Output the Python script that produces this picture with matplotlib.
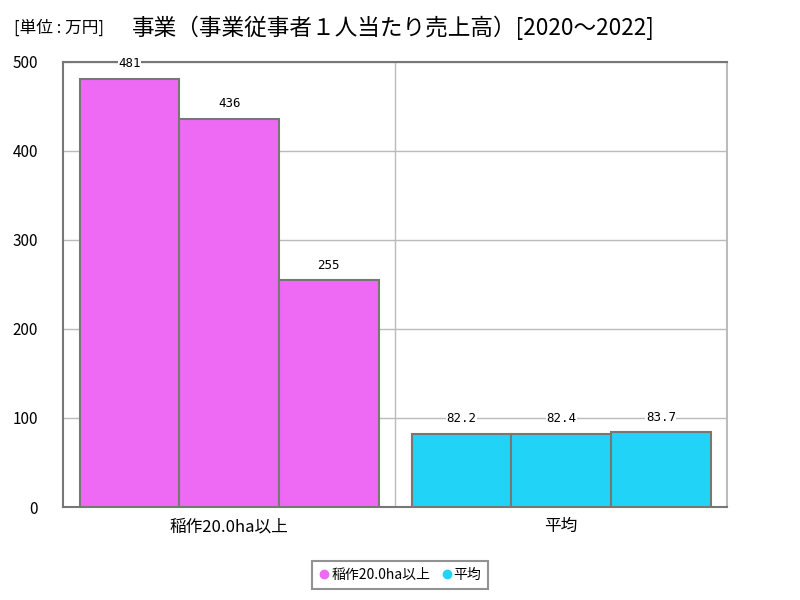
import numpy as np
import matplotlib.pyplot as plt
from matplotlib.lines import Line2D

plt.rcParams['font.family'] = ['Noto Sans CJK JP', 'DejaVu Sans']

categories = ['稲作20.0ha以上', '平均']
years = ['2020', '2021', '2022']
values_rice = [481, 436, 255]
values_avg = [82.2, 82.4, 83.7]
colors = ['#ee6af4', '#22d3f8']

fig = plt.figure(figsize=(8, 6), dpi=100)
ax = fig.add_axes([0.079, 0.155, 0.83, 0.742])

w = 0.3
x = np.arange(len(categories))
for i, (vals, c) in enumerate([(values_rice, colors[0]), (values_avg, colors[1])]):
    for j, v in enumerate(vals):
        xp = x[i] - w + j * w
        ax.bar(xp, v, width=w, color=c, edgecolor='#777777', linewidth=1.5, zorder=3)
        ax.annotate(str(v), (xp, v), xytext=(0, 6), textcoords='offset points',
                    ha='center', va='bottom', fontsize=9, family='DejaVu Sans Mono',
                    zorder=4, clip_on=False,
                    bbox=dict(boxstyle='square,pad=0.05', fc='white', ec='none'))

ax.set_xlim(-0.5, 1.5)
ax.set_ylim(0, 500)
ax.set_yticks([0, 100, 200, 300, 400, 500])
ax.set_xticks(x)
ax.set_xticklabels(categories, fontsize=12)
ax.tick_params(axis='y', labelsize=11, length=0, pad=18)
ax.tick_params(axis='x', length=0, pad=8)
ax.grid(axis='y', color='#bbbbbb', linewidth=1, zorder=0)
ax.axvline(0.5, color='#bbbbbb', linewidth=1, zorder=0)
for s in ax.spines.values():
    s.set_color('#777777')
    s.set_linewidth(1.5)
ax.spines['right'].set_color('#bbbbbb')

fig.text(0.018, 0.953, '[単位 : 万円]', fontsize=12, va='center')
fig.text(0.165, 0.953, '事業（事業従事者１人当たり売上高）[2020～2022]', fontsize=16.3, va='center')

handles = [Line2D([], [], marker='o', linestyle='', color=c, markersize=6) for c in colors]
leg = fig.legend(handles, categories, loc='center', bbox_to_anchor=(0.5, 0.042),
                 ncol=2, fontsize=10, frameon=True, fancybox=False, handletextpad=0.1,
                 columnspacing=0.8, borderpad=0.5, handlelength=0.8)
leg.get_frame().set_edgecolor('#777777')
leg.get_frame().set_linewidth(1.5)

fig.savefig('out.png', dpi=100)
